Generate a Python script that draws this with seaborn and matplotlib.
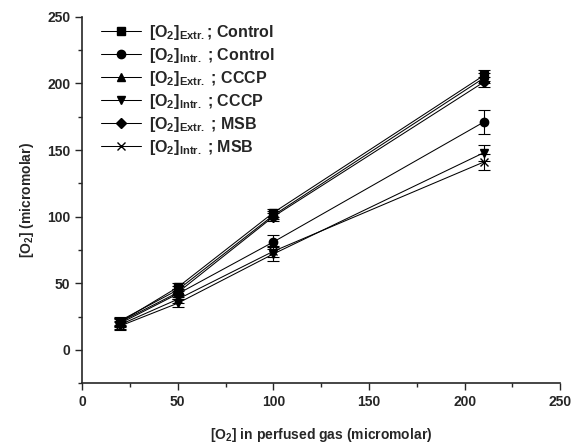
import matplotlib
matplotlib.use("Agg")
import matplotlib.pyplot as plt
import seaborn as sns
import pandas as pd
import numpy as np

sns.set_theme(style="ticks")
plt.rcParams['font.family'] = ['Liberation Sans', 'DejaVu Sans']
plt.rcParams['font.weight'] = 'bold'
plt.rcParams['mathtext.fontset'] = 'custom'
plt.rcParams['mathtext.rm'] = 'Liberation Sans:bold'
plt.rcParams['mathtext.it'] = 'Liberation Sans:bold'
plt.rcParams['mathtext.bf'] = 'Liberation Sans:bold'

x_vals = [20, 50, 100, 210]
series_names = [
    r"[O$_2$]$_{\rm Extr.}$; Control",
    r"[O$_2$]$_{\rm Intr.}$ ; Control",
    r"[O$_2$]$_{\rm Extr.}$ ; CCCP",
    r"[O$_2$]$_{\rm Intr.}$ ; CCCP",
    r"[O$_2$]$_{\rm Extr.}$ ; MSB",
    r"[O$_2$]$_{\rm Intr.}$ ; MSB",
]
ctrl_extr = [21, 47, 103, 206]
ctrl_intr = [20, 42, 81, 171]
cccp_extr = [22, 45, 101, 204]
cccp_intr = [18, 35, 72, 148]
msb_extr = [21, 43, 100, 201]
msb_intr = [19, 38, 74, 141]
ctrl_extr_err = [3, 3, 3, 4]
ctrl_intr_err = [3, 4, 5, 9]
cccp_extr_err = [3, 3, 3, 4]
cccp_intr_err = [3, 3, 5, 6]
msb_extr_err = [3, 3, 3, 4]
msb_intr_err = [3, 3, 4, 6]
markers = ['s', 'o', '^', 'v', 'D', 'x']

values = [ctrl_extr, ctrl_intr, cccp_extr, cccp_intr, msb_extr, msb_intr]
errs = [ctrl_extr_err, ctrl_intr_err, cccp_extr_err, cccp_intr_err, msb_extr_err, msb_intr_err]

fig = plt.figure(figsize=(5.74, 4.44), dpi=100)
ax = fig.add_axes([0.143, 0.137, 0.833, 0.825])

for name, vals, er, mk in zip(series_names, values, errs, markers):
    ax.errorbar(x_vals, vals, yerr=er, fmt='none', ecolor='black',
                elinewidth=0.8, capsize=4, capthick=0.8, zorder=2)
    d = pd.DataFrame({"x": x_vals, "y": vals})
    sns.lineplot(data=d, x="x", y="y", color='black', marker=mk,
                 markersize=6 if mk != 'D' else 5, linewidth=0.75,
                 markeredgecolor='black', markerfacecolor='black',
                 markeredgewidth=1.0, ax=ax, zorder=3, label=name)

ax.set_xlim(0, 250)
ax.set_ylim(-25, 250)
ax.set_xticks([0, 50, 100, 150, 200, 250])
ax.set_yticks([0, 50, 100, 150, 200, 250])
ax.set_xticks(np.arange(25, 250, 50), minor=True)
ax.set_yticks(np.arange(-25, 250, 50), minor=True)
ax.tick_params(which='major', direction='out', length=5, width=1, labelsize=10)
ax.tick_params(which='minor', direction='out', length=3, width=1)
for lbl in ax.get_xticklabels() + ax.get_yticklabels():
    lbl.set_fontweight('bold')
for s in ['left', 'bottom']:
    ax.spines[s].set_linewidth(1.2)
ax.spines['top'].set_visible(False)
ax.spines['right'].set_visible(False)

ax.set_xlabel(r"[O$_2$] in perfused gas (micromolar)", fontsize=10, fontweight='bold', labelpad=12)
ax.set_ylabel(r"[O$_2$] (micromolar)", fontsize=10, fontweight='bold', labelpad=8)

leg = ax.legend(loc='upper left', bbox_to_anchor=(0.02, 1.01), frameon=False,
                fontsize=11.5, handlelength=2.5, labelspacing=0.25, handletextpad=0.5,
                borderaxespad=0.2)
for t in leg.get_texts():
    t.set_fontweight('bold')

fig.savefig("out.png", dpi=100)
